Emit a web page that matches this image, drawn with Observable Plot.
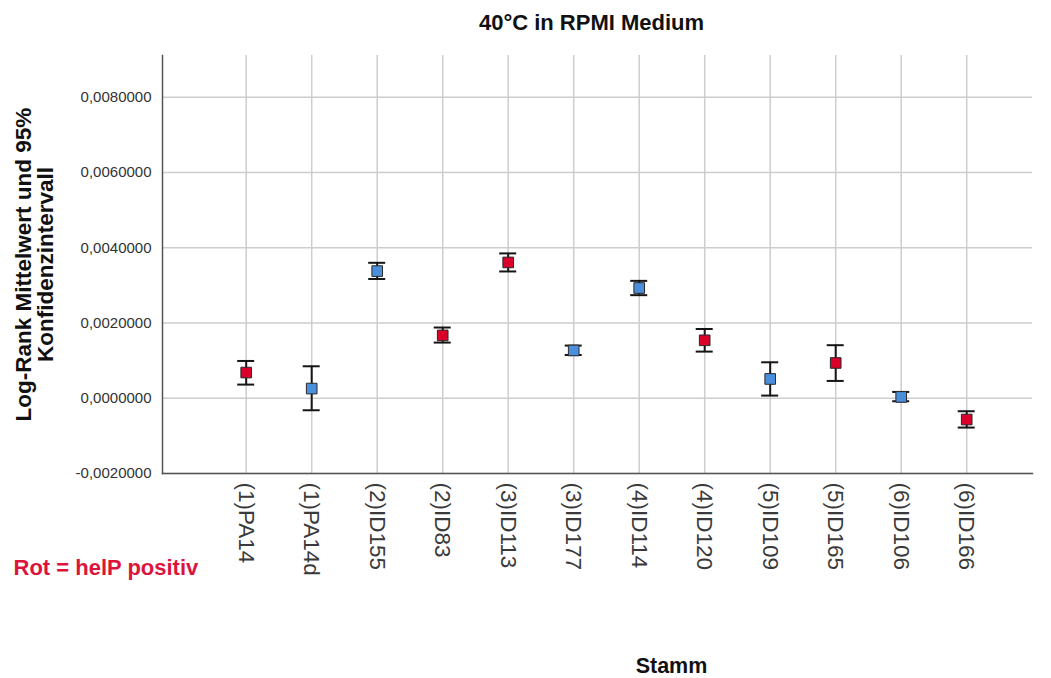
<!DOCTYPE html>
<html>
<head>
<meta charset="utf-8">
<script src="https://cdn.jsdelivr.net/npm/d3@7"></script>
<script src="https://cdn.jsdelivr.net/npm/@observablehq/plot@0.6"></script>
<style>
  html, body { margin: 0; padding: 0; background: #fff; }
  #chart svg { display: block; }
</style>
</head>
<body>
<div id="chart"></div>
<script>
// Strains (Stamm) on the x axis
const strains = ["(1)PA14", "(1)PA14d", "(2)ID155", "(2)ID83", "(3)ID113", "(3)ID177",
                 "(4)ID114", "(4)ID120", "(5)ID109", "(5)ID165", "(6)ID106", "(6)ID166"];
// Log-rank mean and 95% confidence interval bounds
const means = [0.000683, 0.000257, 0.00338, 0.00167, 0.00361, 0.00127,
               0.00293, 0.00154, 0.000513, 0.000938, 0.000035, -0.000566];
const lower = [0.000363, -0.000319, 0.00317, 0.00148, 0.00337, 0.00115,
               0.00274, 0.00124, 0.000071, 0.00046, -0.00008, -0.000779];
const upper = [0.000991, 0.00085, 0.0036, 0.00188, 0.00385, 0.0014,
               0.00312, 0.00184, 0.000956, 0.00141, 0.000168, -0.000345];
// helP status: red = positive
const helP = [true, false, false, true, true, false, false, true, false, true, false, true];
// Y axis tick values
const yTicks = [-0.002, 0, 0.002, 0.004, 0.006, 0.008];

const rows = strains.map((s, i) => ({
  strain: s, mean: means[i], lo: lower[i], hi: upper[i],
  group: helP[i] ? "positiv" : "negativ"
}));

const font = "'Liberation Sans', Arial, sans-serif";
const fmt = v => d3.format(".7f")(v).replace("−", "-").replace(".", ",");
const gridStyle = {stroke: "#cdcdcd", strokeOpacity: 1, strokeWidth: 1.5};

const chart = Plot.plot({
  width: 1051,
  height: 678,
  marginTop: 55,
  marginBottom: 205,
  marginLeft: 162,
  marginRight: 19,
  style: {fontFamily: font, background: "#fff", color: "#111"},
  // narrow bands: the band width is the width of the interval caps
  x: {type: "band", domain: strains, paddingInner: 0.7405, paddingOuter: 0, round: false, insetLeft: 75.2, insetRight: 57.3},
  y: {domain: [-0.002, 0.00911]},
  color: {domain: ["positiv", "negativ"], range: ["#d9002a", "#4a8fdc"]},
  marks: [
    Plot.gridY(yTicks, gridStyle),
    Plot.gridX(strains, gridStyle),
    Plot.axisY(yTicks, {tickSize: 0, tickPadding: 11, tickFormat: fmt, fontSize: 15, fill: "#333", label: null}),
    Plot.axisX({tickRotate: 90, tickSize: 0, tickPadding: 9, fontSize: 22.5, fill: "#3a3a3a", label: null}),
    Plot.frame({anchor: "left", stroke: "#555", strokeWidth: 1.5}),
    Plot.frame({anchor: "bottom", stroke: "#555", strokeWidth: 1.5}),
    // confidence intervals
    Plot.ruleX(rows, {x: "strain", y1: "lo", y2: "hi", stroke: "#151515", strokeWidth: 2}),
    Plot.tickY(rows, {x: "strain", y: "lo", stroke: "#151515", strokeWidth: 2}),
    Plot.tickY(rows, {x: "strain", y: "hi", stroke: "#151515", strokeWidth: 2}),
    // means
    Plot.dot(rows, {x: "strain", y: "mean", symbol: "square", r: 6, fill: "group", stroke: "#2a2a2a", strokeWidth: 1}),
    // titles and note
    Plot.text(["40°C in RPMI Medium"], {frameAnchor: "top", lineAnchor: "middle", dx: -6, dy: -33, fontSize: 22, fontWeight: "bold", fill: "#111"}),
    Plot.text(["Log-Rank Mittelwert und 95%\nKonfidenzintervall"], {frameAnchor: "left", textAnchor: "middle", lineAnchor: "middle", rotate: -90, dx: -128, fontSize: 22.5, fontWeight: "bold", lineHeight: 0.98, fill: "#111"}),
    Plot.text(["Stamm"], {frameAnchor: "bottom", lineAnchor: "middle", dx: 74, dy: 193, fontSize: 21.5, fontWeight: "bold", fill: "#111"}),
    Plot.text(["Rot = helP positiv"], {frameAnchor: "bottom-left", lineAnchor: "middle", textAnchor: "start", dx: -149, dy: 94, fontSize: 22, fontWeight: "bold", fill: "#dc143c"})
  ]
});

document.getElementById("chart").append(chart);
</script>
</body>
</html>
